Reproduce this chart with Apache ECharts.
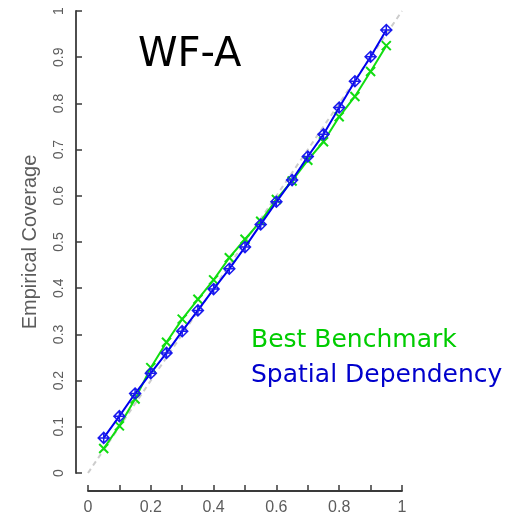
<!DOCTYPE html>
<html>
<head>
<meta charset="utf-8">
<script src="https://cdn.jsdelivr.net/npm/echarts@6/dist/echarts.min.js"></script>
<style>html,body{margin:0;padding:0;background:#fff;}#c{width:519px;height:516px;}</style>
</head>
<body>
<div id="c"></div>
<script>
// nominal coverage levels (x)
const nominal = [0.05,0.10,0.15,0.20,0.25,0.30,0.35,0.40,0.45,0.50,0.55,0.60,0.65,0.70,0.75,0.80,0.85,0.90,0.95];
// empirical coverage, Best Benchmark (green)
const bestBenchmark = [0.053,0.102,0.160,0.228,0.283,0.333,0.376,0.418,0.466,0.506,0.545,0.592,0.632,0.677,0.717,0.771,0.815,0.869,0.925];
// empirical coverage, Spatial Dependency (blue)
const spatialDependency = [0.076,0.123,0.172,0.216,0.260,0.307,0.352,0.398,0.442,0.489,0.538,0.587,0.634,0.685,0.733,0.791,0.848,0.901,0.959];
// 45-degree reference line
const refLine = [[0,0],[1,1]];
const xTickLabels = ['0','','0.2','','0.4','','0.6','','0.8','','1'];
const yTickLabels = ['0','0.1','0.2','0.3','0.4','0.5','0.6','0.7','0.8','0.9','1'];
const seriesNames = ['Best Benchmark','Spatial Dependency'];
const titleText = 'WF-A';
const yAxisTitle = 'Empirical Coverage';

const pair = (xs, ys) => xs.map((x, i) => [x, ys[i]]);
const chart = echarts.init(document.getElementById('c'), null, {renderer:'canvas'});
const axisCol = '#3a3a3a';
const labCol = '#5c5c5c';
chart.setOption({
  animation: false,
  backgroundColor: '#fff',
  title: {
    text: titleText, left: 133, top: 31,
    textStyle: {fontFamily: 'DejaVu Sans', fontSize: 40, fontWeight: 'normal', color: '#000'}
  },
  legend: {
    orient: 'vertical', left: 241, top: 323, itemWidth: 0, itemHeight: 14, itemGap: 10,
    icon: 'none', selectedMode: false,
    textStyle: {fontFamily: 'DejaVu Sans', fontSize: 25},
    data: [
      {name: seriesNames[0], icon: 'none', textStyle: {color: '#00cc00', fontFamily: 'DejaVu Sans', fontSize: 25}},
      {name: seriesNames[1], icon: 'none', textStyle: {color: '#0000cc', fontFamily: 'DejaVu Sans', fontSize: 25}}
    ]
  },
  grid: {left: 88, top: 11, width: 314, height: 462, containLabel: false},
  xAxis: {
    type: 'value', min: 0, max: 1, interval: 0.1, offset: 18,
    axisLine: {show: true, onZero: false, lineStyle: {color: axisCol, width: 1.8}},
    axisTick: {show: true, inside: true, length: 6, lineStyle: {color: axisCol, width: 1.5}},
    splitLine: {show: false},
    axisLabel: {
      color: labCol, fontFamily: 'Liberation Sans', fontSize: 16, margin: 9,
      formatter: v => xTickLabels[Math.round(v * 10)]
    }
  },
  yAxis: {
    type: 'value', min: 0, max: 1, interval: 0.1, offset: 12,
    name: yAxisTitle, nameLocation: 'middle', nameGap: 36, nameRotate: 90,
    nameTextStyle: {color: labCol, fontFamily: 'Liberation Sans', fontSize: 20},
    axisLine: {show: true, onZero: false, lineStyle: {color: axisCol, width: 1.8}},
    axisTick: {show: true, inside: true, length: 6, lineStyle: {color: axisCol, width: 1.5}},
    splitLine: {show: false},
    axisLabel: {
      color: labCol, fontFamily: 'Liberation Sans', fontSize: 14, rotate: 90, margin: 10,
      formatter: v => yTickLabels[Math.round(v * 10)]
    }
  },
  series: [
    {
      type: 'line', data: refLine, symbol: 'none', silent: true, z: 1,
      lineStyle: {color: '#cccccc', width: 2, type: [5, 4]}
    },
    {
      name: seriesNames[0], type: 'line', data: pair(nominal, bestBenchmark), z: 2,
      symbol: 'path://M0,0L10,10M10,0L0,10', symbolSize: 9,
      lineStyle: {color: '#11dd11', width: 2},
      itemStyle: {color: 'rgba(0,0,0,0)', borderColor: '#11dd11', borderWidth: 2}
    },
    {
      name: seriesNames[1], type: 'line', data: pair(nominal, spatialDependency), z: 3,
      symbol: 'path://M5,0L10,5L5,10L0,5ZM5,0L5,10M0,5L10,5', symbolSize: 11,
      lineStyle: {color: '#0000ee', width: 2},
      itemStyle: {color: 'rgba(0,0,0,0)', borderColor: '#1a1aee', borderWidth: 1.5}
    }
  ]
});
</script>
</body>
</html>
